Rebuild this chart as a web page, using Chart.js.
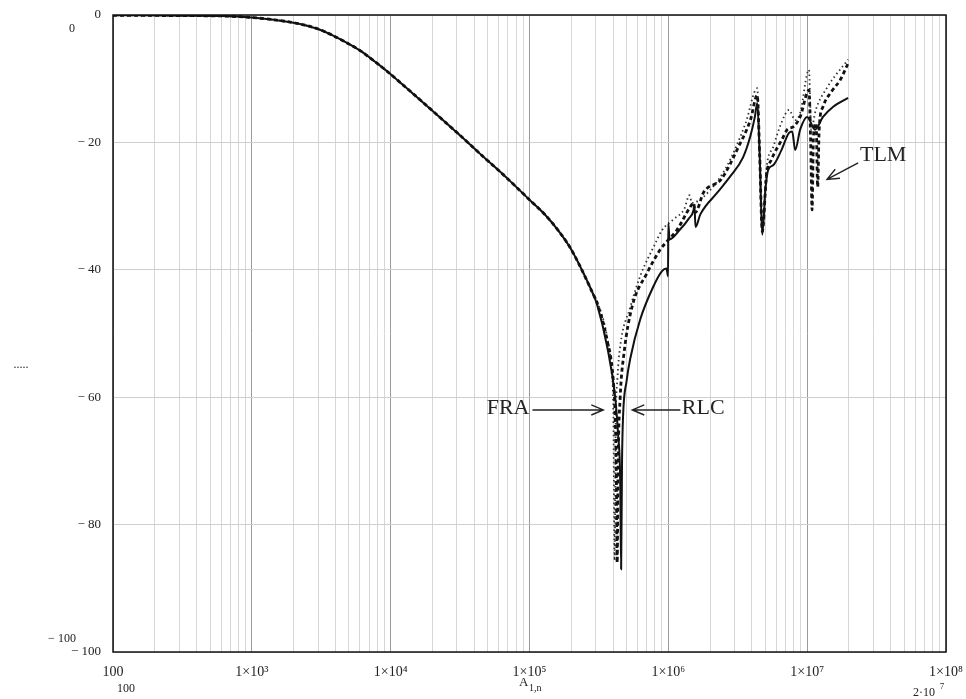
<!DOCTYPE html>
<html>
<head>
<meta charset="utf-8">
<script src="https://cdn.jsdelivr.net/npm/chart.js@4/dist/chart.umd.min.js"></script>
<style>
  html, body { margin: 0; padding: 0; background: #fff; }
  canvas { display: block; }
</style>
</head>
<body>
<canvas id="chart" width="966" height="699"></canvas>
<script>
// shared low-frequency part (all three models overlap here)
const commonFreq = [100, 150, 300, 600, 1000, 1500, 2220, 3000, 3660, 4500, 6030, 8000, 1e4, 1.2e4, 1.45e4, 1.8e4, 2.27e4, 3.2e4, 4.41e4, 6.5e4, 1.01e5, 1.3e5, 1.66e5, 1.96e5, 2.32e5, 2.87e5];
const commonDb = [-0.05, -0.05, -0.1, -0.15, -0.4, -0.8, -1.4, -2.2, -3.0, -4.0, -5.6, -7.6, -9.3, -10.8, -12.35, -14.15, -16.1, -19, -21.8, -25.1, -29.1, -31.4, -34.2, -36.5, -39.5, -43.8];

const rlcFreq = [3.07e5, 3.62e5, 4.14e5, 4.35e5, 4.5e5, 4.57e5, 4.64e5, 4.72e5, 5.0e5, 5.31e5, 6.27e5, 7.77e5, 9.0e5, 9.7e5, 9.95e5, 1.0e6, 1.02e6, 1.2e6, 1.4e6, 1.52e6, 1.54e6, 1.57e6, 1.7e6, 2.25e6, 2.8e6, 3.46e6, 3.9e6, 4.2e6, 4.37e6, 4.55e6, 4.75e6, 5.0e6, 5.24e6, 5.69e6, 6.5e6, 7.4e6, 7.8e6, 8.2e6, 8.9e6, 1.0e7, 1.14e7, 1.3e7, 1.54e7, 1.97e7];
const rlcDb = [-45.5, -52, -60, -66, -73, -87, -70, -63, -57.5, -54, -47.8, -42.7, -40.2, -39.8, -41, -32.7, -35.2, -33.8, -32, -30.6, -29.8, -33.3, -31.3, -27.9, -25.3, -22.3, -19, -16, -13.8, -22, -34.5, -27.5, -24.3, -23.6, -21.3, -18.5, -18.3, -21.2, -18, -16, -18, -16, -14.4, -13];

const tlmFreq = [3.07e5, 3.62e5, 4.0e5, 4.14e5, 4.22e5, 4.28e5, 4.35e5, 4.5e5, 4.8e5, 5.48e5, 7.03e5, 8.7e5, 1.0e6, 1.15e6, 1.45e6, 1.52e6, 1.56e6, 1.8e6, 2.4e6, 3.2e6, 3.9e6, 4.37e6, 4.55e6, 4.75e6, 5.1e6, 5.5e6, 6.6e6, 7.18e6, 8.0e6, 8.9e6, 1.03e7, 1.06e7, 1.085e7, 1.11e7, 1.16e7, 1.19e7, 1.22e7, 1.3e7, 1.5e7, 1.73e7, 1.97e7];
const tlmDb = [-45.2, -51, -57, -63, -72, -86, -70, -60, -53, -45.8, -40.5, -36.9, -35.3, -33.8, -30, -29.5, -31, -27.8, -25.8, -20.7, -16.5, -12.6, -22, -34, -25, -22.8, -19.5, -18, -17.5, -16, -11.8, -20, -30.6, -19, -17, -27, -18, -14.4, -12, -10.2, -7.6];

const fraFreq = [3.07e5, 3.62e5, 3.9e5, 4.02e5, 4.1e5, 4.18e5, 4.3e5, 4.5e5, 5.3e5, 6.27e5, 8.0e5, 9.0e5, 1.1e6, 1.3e6, 1.42e6, 1.48e6, 1.8e6, 2.6e6, 3.6e6, 4.37e6, 4.55e6, 4.75e6, 5.1e6, 5.7e6, 6.5e6, 7.4e6, 8.2e6, 8.9e6, 1.03e7, 1.07e7, 1.15e7, 1.4e7, 1.97e7];
const fraDb = [-45, -50.5, -56, -63, -85.6, -64, -57, -52, -46, -41, -36, -33.8, -32, -30.5, -28.3, -29.5, -28.5, -24, -17, -11.5, -22, -34, -24, -20.7, -17, -14.9, -16.5, -15.4, -8.6, -18, -15, -11.3, -7];

const yTicks = [0, -20, -40, -60, -80, -100];
const decades = [100, 1e3, 1e4, 1e5, 1e6, 1e7, 1e8];
const decadeLabels = ['100', '1×10³', '1×10⁴', '1×10⁵', '1×10⁶', '1×10⁷', '1×10⁸'];

function points(freq, db) {
  const f = commonFreq.concat(freq);
  const d = commonDb.concat(db);
  return f.map((x, i) => ({ x: x, y: d[i] }));
}

const serif = '"Liberation Serif", "DejaVu Serif", serif';

// arrows and free text, anchored in data units
const annotations = {
  id: 'annotations',
  afterDatasetsDraw(chart) {
    const ctx = chart.ctx;
    const xs = chart.scales.x, ys = chart.scales.y;
    const a = chart.chartArea;

    ctx.save();
    ctx.strokeStyle = '#111';
    ctx.lineWidth = 1.5;
    ctx.strokeRect(a.left, a.top, a.right - a.left, a.bottom - a.top);

    function arrow(f1, v1, f2, v2) {
      const x1 = xs.getPixelForValue(f1), y1 = ys.getPixelForValue(v1);
      const x2 = xs.getPixelForValue(f2), y2 = ys.getPixelForValue(v2);
      const ang = Math.atan2(y2 - y1, x2 - x1);
      ctx.beginPath();
      ctx.moveTo(x1, y1);
      ctx.lineTo(x2, y2);
      ctx.moveTo(x2 - 13 * Math.cos(ang - 0.4), y2 - 13 * Math.sin(ang - 0.4));
      ctx.lineTo(x2, y2);
      ctx.lineTo(x2 - 13 * Math.cos(ang + 0.4), y2 - 13 * Math.sin(ang + 0.4));
      ctx.stroke();
    }
    ctx.strokeStyle = '#222';
    ctx.lineWidth = 1.4;
    arrow(1.05e5, -62, 3.4e5, -62);
    arrow(1.22e6, -62, 5.5e5, -62);
    arrow(2.33e7, -23.2, 1.39e7, -25.8);

    ctx.fillStyle = '#222';
    ctx.font = '22px ' + serif;
    ctx.textBaseline = 'middle';
    ctx.textAlign = 'right';
    ctx.fillText('FRA', xs.getPixelForValue(1.0e5), ys.getPixelForValue(-61.8));
    ctx.textAlign = 'left';
    ctx.fillText('RLC', xs.getPixelForValue(1.25e6), ys.getPixelForValue(-61.8));
    ctx.fillText('TLM', xs.getPixelForValue(2.4e7), ys.getPixelForValue(-22));

    // stray labels of the original worksheet
    ctx.font = '12px ' + serif;
    ctx.textAlign = 'center';
    ctx.fillText('0', 72, 29);
    ctx.fillText('− 100', 62, 639);
    ctx.fillText('100', 126, 689);
    ctx.fillText('.....', 21, 365);
    ctx.fillText('2·10', 924, 693);
    ctx.font = '9px ' + serif;
    ctx.fillText('7', 942, 687);
    ctx.font = '13px ' + serif;
    ctx.textAlign = 'left';
    ctx.fillText('A', 519, 683);
    ctx.font = '10px ' + serif;
    ctx.fillText('1,n', 529, 688);
    ctx.restore();
  }
};

new Chart(document.getElementById('chart'), {
  type: 'line',
  data: {
    datasets: [
      {
        label: 'RLC',
        data: points(rlcFreq, rlcDb),
        borderColor: '#111',
        borderWidth: 2,
        pointRadius: 0,
        cubicInterpolationMode: 'monotone',
        order: 0
      },
      {
        label: 'TLM',
        data: points(tlmFreq, tlmDb),
        borderColor: '#111',
        borderWidth: 2.8,
        borderDash: [4, 3],
        pointRadius: 0,
        cubicInterpolationMode: 'monotone',
        order: 1
      },
      {
        label: 'FRA',
        data: points(fraFreq, fraDb),
        borderColor: '#333',
        borderWidth: 1.8,
        borderDash: [1.5, 3],
        pointRadius: 0,
        cubicInterpolationMode: 'monotone',
        order: 2
      }
    ]
  },
  options: {
    responsive: false,
    animation: false,
    layout: { padding: { left: 0, top: 15, right: 20, bottom: 0 } },
    plugins: { legend: { display: false }, tooltip: { enabled: false } },
    scales: {
      x: {
        type: 'logarithmic',
        min: 100,
        max: 1e8,
        afterFit(scale) {
          scale.height = 47;
          scale.paddingLeft = 0;
          scale.paddingRight = 0;
        },
        afterBuildTicks(scale) {
          const t = [];
          decades.forEach((d, i) => {
            for (let k = 1; k <= 9; k++) {
              if (i === decades.length - 1 && k > 1) break;
              t.push({ value: d * k });
            }
          });
          scale.ticks = t;
        },
        border: { display: false },
        grid: {
          drawTicks: false,
          color: ctx => decades.includes(ctx.tick && ctx.tick.value) ? '#9a9a9a' : '#d6d6d6',
          lineWidth: 1
        },
        ticks: {
          autoSkip: false,
          maxRotation: 0,
          padding: 12,
          color: '#222',
          font: { family: serif, size: 14 },
          callback: v => {
            const i = decades.indexOf(v);
            return i >= 0 ? decadeLabels[i] : '';
          }
        }
      },
      y: {
        min: -100,
        max: 0,
        afterFit(scale) {
          scale.width = 113;
          scale.paddingTop = 0;
          scale.paddingBottom = 0;
        },
        afterBuildTicks(scale) { scale.ticks = yTicks.map(v => ({ value: v })); },
        border: { display: false },
        grid: { drawTicks: false, color: '#cfcfcf', lineWidth: 1 },
        ticks: {
          padding: 12,
          color: '#222',
          font: { family: serif, size: 13 },
          callback: v => v === 0 ? '0' : '− ' + Math.abs(v)
        }
      }
    }
  },
  plugins: [annotations]
});
</script>
</body>
</html>
